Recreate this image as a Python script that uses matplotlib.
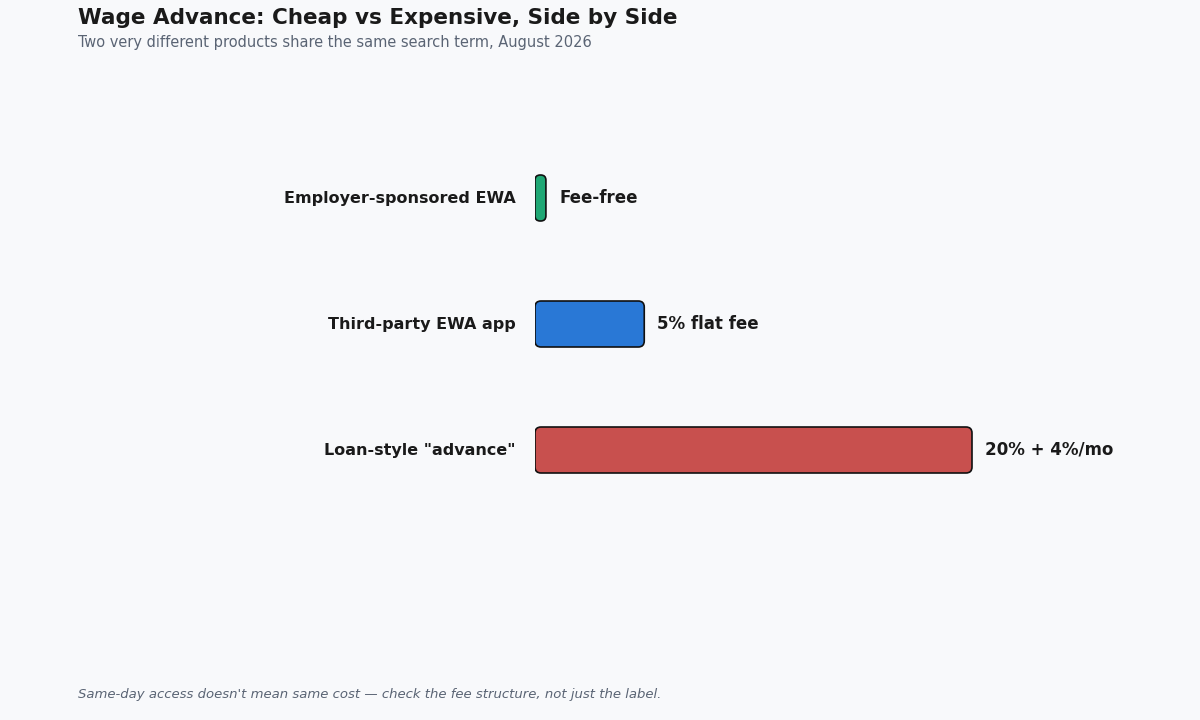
import matplotlib.pyplot as plt
from matplotlib.patches import FancyBboxPatch

# data
products = ["Employer-sponsored EWA", "Third-party EWA app", 'Loan-style "advance"']
cost = [0.5, 5, 20]
cost_labels = ["Fee-free", "5% flat fee", "20% + 4%/mo"]
colors = ["#1FA774", "#2978D6", "#C8504E"]

BG = "#F8F9FB"
DARK = "#1A1A1A"
GREY = "#5A6474"

fig = plt.figure(figsize=(12, 7.2), dpi=100, facecolor=BG)

# axes placed so bars start at x=535px; rows 126px apart
ax_l, ax_w = 535 / 1200, 605 / 1200
ax_b, ax_h = 81 / 720, 630 / 720
ax = fig.add_axes([ax_l, ax_b, ax_w, ax_h])
ax.set_facecolor(BG)
xmax = 605 / 21.85
ax.set_xlim(0, xmax)
ax.set_ylim(3.5, -1.5)
ax.axis("off")

bar_h = 0.365
px_x = 605 / xmax   # px per x unit
px_y = 630 / 5.0    # px per y unit
aspect = px_x / px_y

for i, (v, c) in enumerate(zip(cost, colors)):
    r = min(6 / px_x, v / 2 * 0.95)
    p = FancyBboxPatch((0, i - bar_h / 2), v, bar_h,
                       boxstyle=f"round,pad=0,rounding_size={r}",
                       mutation_aspect=aspect,
                       fc=c, ec="#111111", lw=1.2)
    ax.add_patch(p)
    ax.annotate(cost_labels[i], (v, i), xytext=(9.5, 0), textcoords="offset points",
                ha="left", va="center", fontsize=13.3, fontweight="bold",
                fontstretch="condensed", color=DARK)
    ax.annotate(products[i], (0, i), xytext=(-13.7, 0), textcoords="offset points",
                ha="right", va="center", fontsize=11.5, fontweight="bold",
                color=DARK, annotation_clip=False)

fig.text(78 / 1200, 1 - 18 / 720, "Wage Advance: Cheap vs Expensive, Side by Side",
         ha="left", va="center", fontsize=15.5, fontweight="bold", color=DARK)
fig.text(78 / 1200, 1 - 42 / 720,
         "Two very different products share the same search term, August 2026",
         ha="left", va="center", fontsize=11.7, color=GREY, fontstretch="condensed")
fig.text(78 / 1200, 1 - 694.5 / 720,
         "Same-day access doesn't mean same cost \u2014 check the fee structure, not just the label.",
         ha="left", va="center", fontsize=9.5, style="italic", color=GREY)

fig.savefig("out.png", dpi=100, facecolor=BG)
